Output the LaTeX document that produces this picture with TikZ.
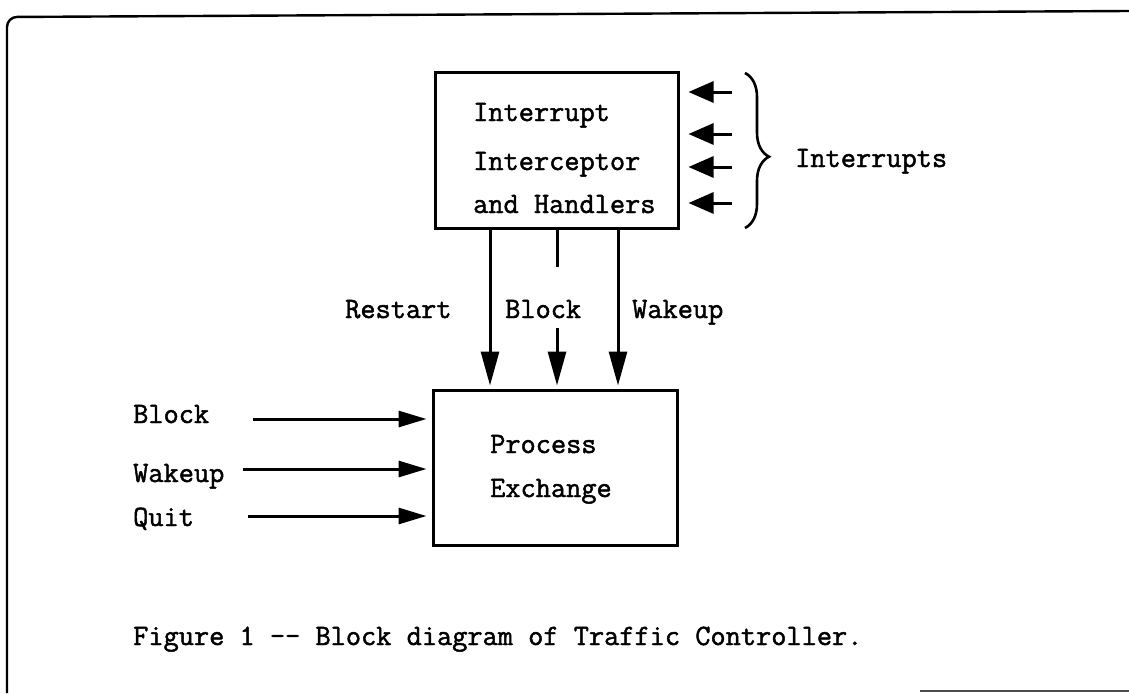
\documentclass[tikz,border=0pt]{standalone}
\usepackage{fontspec}
\newfontfamily\typer[RawFeature={embolden=1.6}]{Latin Modern Mono}
\usetikzlibrary{arrows.meta,decorations.pathreplacing}
\begin{document}
\begin{tikzpicture}[x=1pt,y=-1pt,
  every node/.style={font=\typer\fontsize{29.5}{34}\selectfont, inner sep=0pt},
  txt/.style={anchor=base west},
  blockbox/.style={draw, line width=3pt, inner sep=0pt},
  wire/.style={line width=3pt},
  downarrow/.style={wire, -{Triangle[length=34pt,width=18pt]}},
  inarrow/.style={wire, -{Triangle[length=28pt,width=16pt]}},
  intarrow/.style={wire, -{Triangle[length=25pt,width=21pt]}}]
\useasboundingbox (0,0) rectangle (1129,693);

% page frame
\draw[line width=2.4pt, rounded corners=10pt] (7,693) -- (7,17) -- (1129,11);
\draw[line width=2pt, black!70] (920,691) -- (1129,691);

% blocks
\node[blockbox, minimum width=243pt, minimum height=156pt] (ih) at (556.5,150) {};
\node[blockbox, minimum width=244pt, minimum height=155pt] (px) at (555,467.5) {};

% block texts
\node[txt] (t1) at (473,121) {Interrupt};
\node[txt] (t2) at (473,170) {Interceptor};
\node[txt] (t3) at (473,213) {and Handlers};
\node[txt] (t4) at (490,453) {Process};
\node[txt] (t5) at (490,497) {Exchange};

% interrupt inputs
\coordinate (i1) at (732,92);
\coordinate (i2) at (732,134);
\coordinate (i3) at (732,167);
\coordinate (i4) at (732,203);
\foreach \c in {i1,i2,i3,i4}
  \draw[intarrow, shorten >=9pt] (\c) -- (ih.east |- \c);
\draw[line width=2.6pt, decorate, decoration={brace, amplitude=24pt, aspect=0.54}] (745,73) -- (745,228);
\node[txt] (lint) at (795,167) {Interrupts};

% signals from the handlers to the exchange
\coordinate (c1) at (490,0);
\coordinate (c2) at (557,0);
\coordinate (c3) at (618,0);
\coordinate (m1) at (557,267);
\coordinate (m2) at (557,328);
\draw[downarrow, shorten >=3pt] (ih.south -| c1) -- (px.north -| c1);
\draw[wire] (ih.south -| c2) -- (m1);
\draw[downarrow, shorten >=3pt] (m2) -- (px.north -| c2);
\draw[downarrow, shorten >=3pt] (ih.south -| c3) -- (px.north -| c3);
\node[txt] (lrs) at (345,318) {Restart};
\node[txt] (lbk) at (505,318) {Block};
\node[txt] (lwk) at (632,318) {Wakeup};

% external calls into the exchange
\coordinate (a1) at (253,419);
\coordinate (a2) at (243,469);
\coordinate (a3) at (248,516);
\draw[inarrow, shorten >=5pt] (a1) -- (px.west |- a1);
\draw[inarrow, shorten >=5pt] (a2) -- (px.west |- a2);
\draw[inarrow, shorten >=5pt] (a3) -- (px.west |- a3);
\node[txt] (inb) at (133,423) {Block};
\node[txt] (inw) at (133,482) {Wakeup};
\node[txt] (inq) at (133,526) {Quit};

% caption
\node[txt] (cap) at (133,645) {Figure 1 -- Block diagram of Traffic Controller.};
\end{tikzpicture}
\end{document}
